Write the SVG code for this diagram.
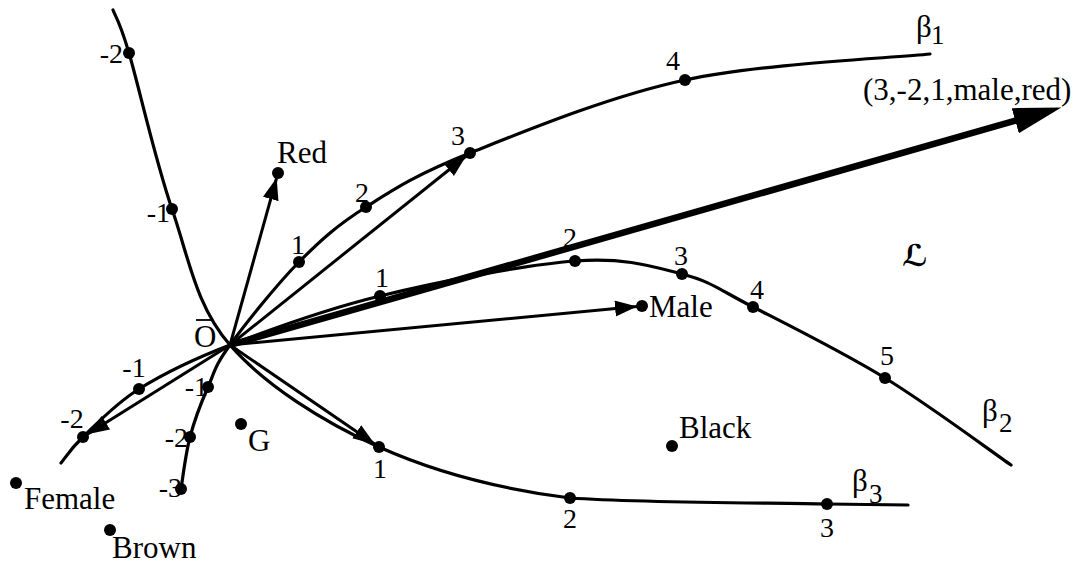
<svg xmlns="http://www.w3.org/2000/svg" width="1090" height="566" viewBox="0 0 1090 566" font-family="'Liberation Serif', 'Times New Roman', serif">
<style>
.c{fill:none;stroke:#000;stroke-width:3.2;stroke-linecap:round}
.a{fill:none;stroke:#000;stroke-width:3}
.t{fill:none;stroke:#000;stroke-width:6.5}
.d{fill:#000}
text{font-family:'Liberation Serif','Times New Roman',serif;fill:#000}
.k{font-size:28px;text-anchor:middle}
.ke{font-size:28px;text-anchor:end}
.l{font-size:31px}
.b{font-size:31px}
.s{font-size:27px}
</style>
<defs>
<marker id="ah" markerUnits="userSpaceOnUse" markerWidth="32" markerHeight="18" refX="27" refY="8" orient="auto">
<path d="M0,0 L22,8 L0,16 z" fill="#000"/>
</marker>
<marker id="big" markerUnits="userSpaceOnUse" markerWidth="60" markerHeight="30" refX="6" refY="13" orient="auto">
<path d="M0,0 L48,13 L0,26 z" fill="#000"/>
</marker>
</defs>
<rect width="1090" height="566" fill="#fff"/>
<g id="connectors">
<path id="beta1" class="c" d="M181,489 C182.5,480.3 185.5,454 190,437 C194.5,420 201.3,402.3 208,387 C214.7,371.7 214.8,365.8 230,345 C245.2,324.2 276.3,285 299,262 C321.7,239 337.5,225.2 366,207 C394.5,188.8 416.8,174.2 470,153 C523.2,131.8 608.3,96.5 685,80 C761.7,63.5 889,58.3 930,54"/>
<path id="beta2" class="c" d="M61,463 C64.7,458.7 70,449.3 83,437 C96,424.7 114.5,404.3 139,389 C163.5,373.7 189.8,360.5 230,345 C270.2,329.5 322.5,310 380,296 C437.5,282 524.7,264.7 575,261 C625.3,257.3 652.3,266.3 682,274 C711.7,281.7 719.2,289.7 753,307 C786.8,324.3 842,351.7 885,378 C928,404.3 990,450.5 1011,465"/>
<path id="beta3" class="c" d="M113,10 C115.7,17.2 119.2,19.8 129,53 C138.8,86.2 155.2,160.3 172,209 C188.8,257.7 195.5,305.3 230,345 C264.5,384.7 322.3,421.5 379,447 C435.7,472.5 495.3,488.5 570,498 C644.7,503 770.7,502.8 827,504 L908,505"/>
<line class="a" x1="230" y1="345" x2="470" y2="153" marker-end="url(#ah)"/>
<line class="a" x1="230" y1="345" x2="83" y2="437" marker-end="url(#ah)"/>
<line class="a" x1="230" y1="345" x2="379" y2="447" marker-end="url(#ah)"/>
<line class="a" x1="230" y1="345" x2="278" y2="173" marker-end="url(#ah)"/>
<line class="a" x1="230" y1="345" x2="642" y2="306" marker-end="url(#ah)"/>
<line class="t" x1="230" y1="345" x2="1021" y2="119" marker-end="url(#big)"/>
</g>
<g id="origin">
<text class="l" x="194" y="347">O</text>
<line x1="196" y1="320" x2="212" y2="320" stroke="#000" stroke-width="1.8"/>
</g>
<g id="beta1-ticks">
<circle class="d" cx="299" cy="262" r="6"/><text class="k" x="298" y="254">1</text>
<circle class="d" cx="366" cy="207" r="6"/><text class="k" x="362" y="202">2</text>
<circle class="d" cx="470" cy="153" r="6"/><text class="k" x="458" y="145">3</text>
<circle class="d" cx="685" cy="80" r="6"/><text class="k" x="673" y="70">4</text>
<circle class="d" cx="208" cy="387" r="6"/><text class="ke" x="208" y="396">-1</text>
<circle class="d" cx="190" cy="437" r="6"/><text class="ke" x="188" y="447">-2</text>
<circle class="d" cx="181" cy="489" r="6"/><text class="ke" x="182" y="497">-3</text>
<text class="b" x="916" y="37">β</text><text class="s" x="931" y="44">1</text>
</g>
<g id="beta2-ticks">
<circle class="d" cx="380" cy="296" r="6"/><text class="k" x="382" y="287">1</text>
<circle class="d" cx="575" cy="261" r="6"/><text class="k" x="570" y="247">2</text>
<circle class="d" cx="682" cy="274" r="6"/><text class="k" x="681" y="265">3</text>
<circle class="d" cx="753" cy="307" r="6"/><text class="k" x="757" y="299">4</text>
<circle class="d" cx="885" cy="378" r="6"/><text class="k" x="887" y="365">5</text>
<circle class="d" cx="139" cy="389" r="6"/><text class="k" x="134" y="377">-1</text>
<circle class="d" cx="83" cy="437" r="6"/><text class="k" x="72" y="428">-2</text>
<text class="b" x="982" y="421">β</text><text class="s" x="999" y="432">2</text>
</g>
<g id="beta3-ticks">
<circle class="d" cx="379" cy="447" r="6"/><text class="k" x="380" y="478">1</text>
<circle class="d" cx="570" cy="498" r="6"/><text class="k" x="570" y="528">2</text>
<circle class="d" cx="827" cy="504" r="6"/><text class="k" x="827" y="537">3</text>
<circle class="d" cx="172" cy="209" r="6"/><text class="ke" x="170" y="222">-1</text>
<circle class="d" cx="129" cy="53" r="6"/><text class="ke" x="123" y="63">-2</text>
<text class="b" x="852" y="491">β</text><text class="s" x="869" y="503">3</text>
</g>
<g id="vector-label"><text class="l" x="863" y="100">(3,-2,1,male,red)</text></g>
<g id="red"><circle class="d" cx="278" cy="173" r="6"/><text class="l" x="277" y="163">Red</text></g>
<g id="male"><circle class="d" cx="642" cy="306" r="6"/><text class="l" x="649" y="317">Male</text></g>
<g id="g-point"><circle class="d" cx="241" cy="424" r="6"/><text class="l" x="248" y="451">G</text></g>
<g id="black"><circle class="d" cx="672" cy="446" r="6"/><text class="l" x="679" y="438">Black</text></g>
<g id="female"><circle class="d" cx="16" cy="483" r="6"/><text class="l" x="24" y="509">Female</text></g>
<g id="brown"><circle class="d" cx="110" cy="530" r="6"/><text class="l" x="112" y="558">Brown</text></g>
<g id="space-label"><text x="902" y="266" style="font-family:'DejaVu Serif','DejaVu Sans',serif;font-size:30px;font-weight:bold">ℒ</text></g>
</svg>
